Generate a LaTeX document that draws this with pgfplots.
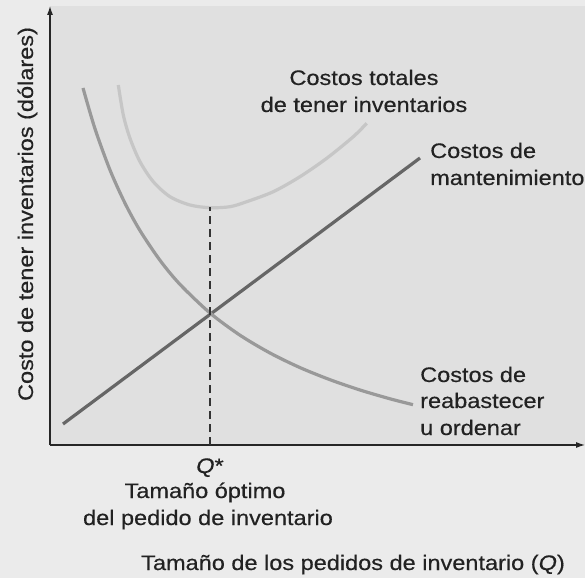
\documentclass[border=0pt]{standalone}
\usepackage{fontspec}
\setmainfont{Liberation Sans}[FakeStretch=1.12, FakeBold=0.4]
\usepackage{pgfplots}
\pgfplotsset{compat=1.18}
\usetikzlibrary{arrows.meta}

\definecolor{bggray}{HTML}{EBEBEB}
\definecolor{plotgray}{HTML}{E0E0E0}
\definecolor{holdc}{HTML}{666666}
\definecolor{orderc}{HTML}{999999}
\definecolor{totalc}{HTML}{C6C6C6}
\definecolor{txt}{HTML}{222222}
\tikzset{lbl/.style={text=txt, font=\fontsize{21}{24}\selectfont, inner sep=0pt}}

\begin{document}
\begin{tikzpicture}
\fill[bggray] (-50pt,-133pt) rectangle (535pt,445pt);
\clip (-50pt,-133pt) rectangle (535pt,445pt);
\begin{axis}[
  at={(0,0)}, anchor=south west,
  width=535pt, height=439pt, scale only axis,
  xmin=0, xmax=535, ymin=0, ymax=439,
  axis lines=left,
  axis line style={line width=1.1pt, black!85, -{Latex[length=9pt,width=6pt]}},
  axis background/.style={fill=plotgray},
  xtick=\empty, ytick=\empty,
  clip=false,
]
% costos de mantenimiento
\addplot[holdc, line width=3.2pt] coordinates {(13,21) (370,287)};
% costos de reabastecer u ordenar
\addplot[orderc, line width=3.2pt, smooth] coordinates {
  (33,357.0) (45,316.2) (60,275.0) (75,241.8) (90,214.4) (110,184.7)
  (130,160.6) (160,132.0) (190,109.8) (220,92.0) (250,77.4) (280,65.3)
  (310,55.0) (340,46.2) (363,40.3)};
% costos totales
\addplot[totalc, line width=3.2pt, smooth] coordinates {
  (68.3,360) (73.3,330) (80,306.7) (90,283.3) (103.3,263.3) (120,248.3)
  (140,240) (160,237.3) (180,238.3) (196.7,243.3) (223.3,253.3)
  (250,268.3) (276.7,286.7) (303.3,308.3) (316.7,321.7)};
% Q*
\addplot[black!80, line width=1.2pt, dash pattern=on 8pt off 5pt] coordinates {(160,0) (160,238)};

\node[lbl, anchor=base] at (314,360) {Costos totales};
\node[lbl, anchor=base] at (314,333) {de tener inventarios};
\node[lbl, anchor=base west] at (380,287) {Costos de};
\node[lbl, anchor=base west] at (380,260) {mantenimiento};
\node[lbl, anchor=base west] at (370,63) {Costos de};
\node[lbl, anchor=base west] at (370,37) {reabastecer};
\node[lbl, anchor=base west] at (370,10) {u ordenar};
\node[lbl, anchor=base] at (160,-28) {\itshape Q\upshape*};
\node[lbl, anchor=base] at (155,-53) {Tamaño óptimo};
\node[lbl, anchor=base] at (158,-80) {del pedido de inventario};
\node[lbl, anchor=base] at (303,-125) {Tamaño de los pedidos de inventario (\textit{Q})};
\node[lbl, anchor=base, rotate=90] at (-17,231) {Costo de tener inventarios (dólares)};
\end{axis}
\end{tikzpicture}
\end{document}
